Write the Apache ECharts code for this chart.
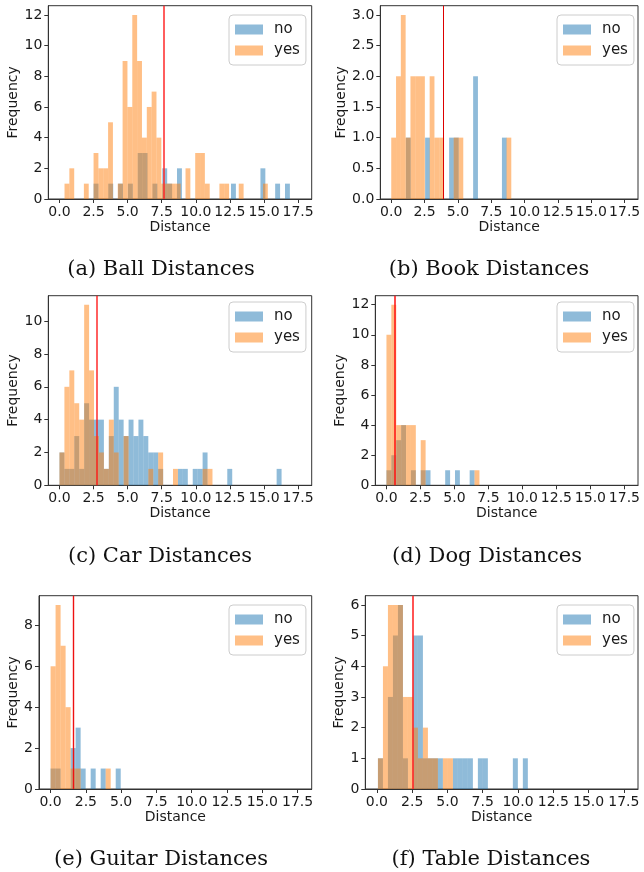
<!DOCTYPE html>
<html><head><meta charset="utf-8">
<script src="https://cdn.jsdelivr.net/npm/echarts@6/dist/echarts.min.js"></script>
<style>html,body{margin:0;padding:0;background:#fff}#c{width:644px;height:872px}</style>
</head><body><div id="c"></div><script>
// ---------------- DATA ----------------
const seriesNames = ['no', 'yes'];
const xTickValues = [0, 2.5, 5, 7.5, 10, 12.5, 15, 17.5];
const xAxisMin = -0.82, xAxisMax = 18.5;

// Ball
const ballNoStart = 2.5, ballNoWidth = 0.36;
const ballNoCounts = [1,0,0,1,0,1,0,1,0,3, 3,0,1,0,2,1,0,2,0,0, 0,0,0,0,0,0,0,0,1,0, 0,0,0,0,2,0,0,1,0,1];
const ballYesStart = 0.37, ballYesWidth = 0.355;
const ballYesCounts = [1,2,0,0,1,0,3,2,2,5, 0,1,9,6,12,9,4,6,7,4, 1,1,1,1,0,2,0,3,3,1, 0,0,1,1,0,0,1,0,0,0, 0,1];
const ballThreshold = 7.64;
const ballYTicks = [0,2,4,6,8,10,12];
const ballYMax = 12.6;

// Book
const bookNoStart = 1.1, bookNoWidth = 0.36;
const bookNoCounts = [1,0,0,0,1,0,0,0,0,1, 1,0,0,0,2,0,0,0,0,0, 1];
const bookYesStart = 0, bookYesWidth = 0.36;
const bookYesCounts = [1,2,3,1,2,2,2,0,2,1, 1,0,0,1,1,0,0,0,0,0, 0,0,0,0,1];
const bookThreshold = 3.89;
const bookYTicks = [0,0.5,1,1.5,2,2.5,3];
const bookYMax = 3.15;

// Car
const carNoStart = 0, carNoWidth = 0.362;
const carNoCounts = [2,1,1,3,1,5,4,4,4,1, 3,6,4,3,4,3,4,3,2,2, 1,0,0,0,1,1,0,1,1,2, 0,0,0,0,1,0,0,0,0,0, 0,0,0,0,1];
const carYesStart = 0, carYesWidth = 0.362;
const carYesCounts = [2,6,7,5,4,11,7,3,2,1, 4,2,0,3,0,0,0,0,1,0, 2,0,0,1,0,0,0,0,0,1, 1];
const carThreshold = 2.73;
const carYTicks = [0,2,4,6,8,10];
const carYMax = 11.55;

// Dog
const dogNoStart = 0, dogNoWidth = 0.36;
const dogNoCounts = [1,2,3,4,0,1,0,1,1,0, 0,0,1,0,1,0,0,1];
const dogYesStart = 0, dogYesWidth = 0.36;
const dogYesCounts = [10,12,4,4,4,4,0,3,0,0, 0,0,0,0,0,0,0,0,1];
const dogThreshold = 0.61;
const dogYTicks = [0,2,4,6,8,10,12];
const dogYMax = 12.6;

// Guitar
const guitarNoStart = 0, guitarNoWidth = 0.355;
const guitarNoCounts = [1,1,0,0,2,3,1,0,1,0, 1,0,0,1];
const guitarYesStart = 0, guitarYesWidth = 0.355;
const guitarYesCounts = [6,9,7,4,1,1,0,0,0,0, 0,1];
const guitarThreshold = 1.6;
const guitarYTicks = [0,2,4,6,8];
const guitarYMax = 9.45;

// Table
const tableNoStart = 0.076, tableNoWidth = 0.354;
const tableNoCounts = [1,0,3,5,6,1,0,5,5,1, 1,1,1,0,0,1,1,1,1,0, 1,1,0,0,0,0,0,1,0,1];
const tableYesStart = 0.076, tableYesWidth = 0.354;
const tableYesCounts = [1,4,6,6,6,3,3,2,1,2, 1,1,0,1,1];
const tableThreshold = 2.57;
const tableYTicks = [0,1,2,3,4,5,6];
const tableYMax = 6.3;

const captions = ['(a) Ball Distances','(b) Book Distances','(c) Car Distances','(d) Dog Distances','(e) Guitar Distances','(f) Table Distances'];

// ---------------- ASSEMBLY ----------------
const panels = [
  {no:[ballNoStart,ballNoWidth,ballNoCounts], yes:[ballYesStart,ballYesWidth,ballYesCounts], thr:ballThreshold, yTicks:ballYTicks, yMax:ballYMax, dec:0},
  {no:[bookNoStart,bookNoWidth,bookNoCounts], yes:[bookYesStart,bookYesWidth,bookYesCounts], thr:bookThreshold, yTicks:bookYTicks, yMax:bookYMax, dec:1},
  {no:[carNoStart,carNoWidth,carNoCounts], yes:[carYesStart,carYesWidth,carYesCounts], thr:carThreshold, yTicks:carYTicks, yMax:carYMax, dec:0},
  {no:[dogNoStart,dogNoWidth,dogNoCounts], yes:[dogYesStart,dogYesWidth,dogYesCounts], thr:dogThreshold, yTicks:dogYTicks, yMax:dogYMax, dec:0},
  {no:[guitarNoStart,guitarNoWidth,guitarNoCounts], yes:[guitarYesStart,guitarYesWidth,guitarYesCounts], thr:guitarThreshold, yTicks:guitarYTicks, yMax:guitarYMax, dec:0},
  {no:[tableNoStart,tableNoWidth,tableNoCounts], yes:[tableYesStart,tableYesWidth,tableYesCounts], thr:tableThreshold, yTicks:tableYTicks, yMax:tableYMax, dec:0}
];

// layout (pixels)
const layout = [
  {left:48.3, top:5.7, width:263.4, height:193.3, yNameGap:22, legLeft:229, legTop:15, capX:161, capY:270, red:{color:'rgba(255,40,40,0.75)', width:2}},
  {left:380.3, top:5.7, width:257.7, height:193.3, yNameGap:28, legLeft:557, legTop:15, capX:489, capY:270, red:{color:'#dd0000', width:1}},
  {left:48.3, top:295.7, width:263.4, height:189.6, yNameGap:22, legLeft:229, legTop:302, capX:160, capY:557, red:{color:'rgba(255,20,20,0.85)', width:1.6}},
  {left:375.3, top:295.7, width:262.7, height:189.6, yNameGap:23, legLeft:557, legTop:302, capX:487, capY:557, red:{color:'rgba(255,20,20,0.85)', width:1.8}},
  {left:39, top:595.7, width:272.7, height:193.3, yNameGap:13, legLeft:229, legTop:605, capX:161, capY:860, red:{color:'#ee1111', width:1.4}},
  {left:365.3, top:595.7, width:272.7, height:193.3, yNameGap:13, legLeft:557, legTop:605, capX:491, capY:860, red:{color:'rgba(255,40,40,0.8)', width:2}}
];

const colors = {no:'rgba(31,119,180,0.5)', yes:'rgba(255,127,14,0.5)'};
const axisColor = '#333';
const textColor = '#1a1a1a';

function bins(start, width, counts) {
  const out = [];
  counts.forEach((c, i) => { if (c > 0) out.push([start + i*width, start + (i+1)*width, c]); });
  return out;
}
function renderBar(params, api) {
  const p0 = api.coord([api.value(0), api.value(2)]);
  const p1 = api.coord([api.value(1), 0]);
  return {type:'rect', shape:{x:p0[0], y:p0[1], width:p1[0]-p0[0], height:p1[1]-p0[1]},
          style:{fill: api.visual('color')}};
}

const grid = [], xAxis = [], yAxis = [], series = [], legend = [], graphic = [];
panels.forEach((p, k) => {
  const L = layout[k];
  grid.push({left:L.left, top:L.top, width:L.width, height:L.height, show:true, borderColor:axisColor, borderWidth:1, backgroundColor:'transparent', outerBoundsMode:'none', containLabel:false});
  xAxis.push({type:'value', gridIndex:k, min:xAxisMin, max:xAxisMax,
    name:'Distance', nameLocation:'middle', nameGap:20,
    nameTextStyle:{fontFamily:'DejaVu Sans', fontSize:14, color:textColor},
    axisLine:{show:true, onZero:false, lineStyle:{color:axisColor, width:1}},
    axisTick:{show:true, length:4, customValues:xTickValues, lineStyle:{color:axisColor}},
    axisLabel:{show:true, customValues:xTickValues, margin:6, fontFamily:'DejaVu Sans', fontSize:14, color:textColor, formatter:v => Number(v).toFixed(1)},
    splitLine:{show:false}});
  yAxis.push({type:'value', gridIndex:k, min:0, max:p.yMax,
    name:'Frequency', nameLocation:'middle', nameGap:L.yNameGap,
    nameTextStyle:{fontFamily:'DejaVu Sans', fontSize:14, color:textColor},
    axisLine:{show:true, onZero:false, lineStyle:{color:axisColor, width:1}},
    axisTick:{show:true, length:4, customValues:p.yTicks, lineStyle:{color:axisColor}},
    axisLabel:{show:true, customValues:p.yTicks, margin:6, fontFamily:'DejaVu Sans', fontSize:14, color:textColor, formatter:v => Number(v).toFixed(p.dec)},
    splitLine:{show:false}});
  ['no','yes'].forEach(name => {
    const d = p[name];
    const s = {type:'custom', name:name, xAxisIndex:k, yAxisIndex:k, renderItem:renderBar,
      itemStyle:{color:colors[name]}, encode:{x:[0,1], y:2}, data:bins(d[0], d[1], d[2]), silent:true};
    if (name === 'yes') {
      s.markLine = {silent:true, symbol:'none', animation:false, label:{show:false},
        lineStyle:{color:L.red.color, width:L.red.width, type:'solid'}, data:[{xAxis:p.thr}]};
    }
    series.push(s);
  });
  legend.push({data:seriesNames, orient:'vertical', left:L.legLeft, top:L.legTop,
    itemWidth:28, itemHeight:10, itemGap:6, icon:'rect', selectedMode:false,
    padding:[7,6,7,6], backgroundColor:'rgba(255,255,255,0.8)', borderColor:'#cccccc', borderWidth:1, borderRadius:4,
    textStyle:{fontFamily:'DejaVu Sans', fontSize:15, color:textColor, padding:[0,0,0,6]}});
  graphic.push({type:'text', x:L.capX, y:L.capY,
    style:{text:captions[k], fontFamily:'DejaVu Serif', fontSize:21, fill:'#111', textAlign:'center', textVerticalAlign:'middle'}});
});

const chart = echarts.init(document.getElementById('c'), null, {renderer:'canvas'});
chart.setOption({animation:false, grid, xAxis, yAxis, series, legend, graphic});
</script></body></html>
